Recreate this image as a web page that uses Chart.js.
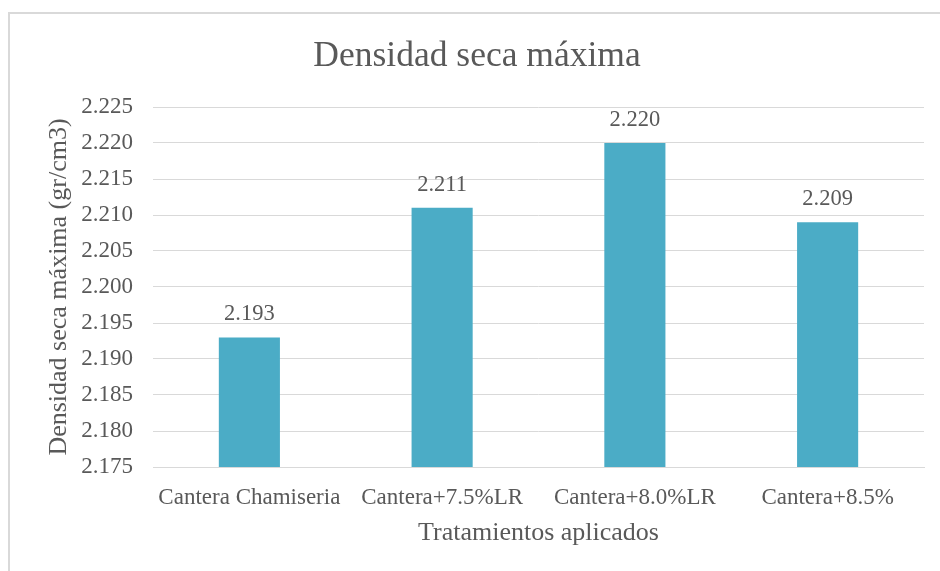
<!DOCTYPE html>
<html lang="es">
<head>
<meta charset="utf-8">
<title>Densidad seca máxima</title>
<script src="https://cdn.jsdelivr.net/npm/chart.js@4/dist/chart.umd.min.js"></script>
<style>
  html, body { margin: 0; padding: 0; background: #ffffff; }
  #wrap { width: 940px; height: 571px; }
</style>
</head>
<body>
<div id="wrap"><canvas id="chart" width="940" height="571"></canvas></div>
<script>
// Tratamientos y densidad seca máxima (gr/cm3)
const categorias = ['Cantera Chamiseria', 'Cantera+7.5%LR', 'Cantera+8.0%LR', 'Cantera+8.5%'];
const densidad = [2.193, 2.211, 2.220, 2.209];

// Escala del eje vertical
const yMin = 2.175;
const yMax = 2.225;
const yStep = 0.005;

const FONT = '"Liberation Serif", "Times New Roman", serif';
const TEXT = '#595959';
const GRID = '#d9d9d9';
const BAR = '#4bacc6';

// Marco gris claro del gráfico (borde superior e izquierdo)
const marco = {
  id: 'marco',
  beforeDraw(chart) {
    const ctx = chart.ctx;
    ctx.save();
    ctx.fillStyle = '#ffffff';
    ctx.fillRect(0, 0, chart.width, chart.height);
    ctx.fillStyle = GRID;
    ctx.fillRect(8, 12, chart.width - 8, 2);
    ctx.fillRect(8, 12, 2, chart.height - 12);
    ctx.restore();
  }
};

// Etiqueta con el valor sobre cada barra
const etiquetas = {
  id: 'etiquetas',
  afterDatasetsDraw(chart) {
    const ctx = chart.ctx;
    const meta = chart.getDatasetMeta(0);
    const values = chart.data.datasets[0].data;
    ctx.save();
    ctx.font = '22.5px ' + FONT;
    ctx.fillStyle = TEXT;
    ctx.textAlign = 'center';
    ctx.textBaseline = 'middle';
    meta.data.forEach((bar, i) => {
      ctx.fillText(values[i].toFixed(3), bar.x, bar.y - 23);
    });
    ctx.restore();
  }
};

new Chart(document.getElementById('chart'), {
  type: 'bar',
  data: {
    labels: categorias,
    datasets: [{
      data: densidad,
      backgroundColor: BAR,
      borderWidth: 0,
      categoryPercentage: 1,
      barPercentage: 0.317
    }]
  },
  options: {
    responsive: false,
    animation: false,
    layout: { padding: { left: 30, right: 16, top: 0, bottom: 0 } },
    plugins: {
      legend: { display: false },
      tooltip: { enabled: false },
      title: {
        display: true,
        text: 'Densidad seca máxima',
        color: TEXT,
        font: { family: FONT, size: 35.5, weight: 'normal', lineHeight: 1.2 },
        padding: { top: 35.7, bottom: 28.7 }
      }
    },
    scales: {
      x: {
        grid: { display: false, drawTicks: false },
        border: { display: true, color: GRID, width: 1 },
        ticks: {
          color: TEXT,
          font: { family: FONT, size: 23 },
          padding: 17,
          maxRotation: 0,
          autoSkip: false
        },
        title: {
          display: true,
          text: 'Tratamientos aplicados',
          color: TEXT,
          font: { family: FONT, size: 26, lineHeight: 1.2 },
          padding: { top: 0, bottom: 22.4 }
        },
        afterFit(scale) { scale.height = 104; }
      },
      y: {
        min: yMin,
        max: yMax,
        grid: { color: GRID, lineWidth: 1, drawTicks: false },
        border: { display: false },
        ticks: {
          stepSize: yStep,
          color: TEXT,
          font: { family: FONT, size: 23 },
          padding: 20,
          callback: (v) => Number(v).toFixed(3)
        },
        title: {
          display: true,
          text: 'Densidad seca máxima (gr/cm3)',
          color: TEXT,
          font: { family: FONT, size: 26, lineHeight: 1.2 },
          padding: { top: 13.4, bottom: 0 }
        },
        afterFit(scale) { scale.width = 123; }
      }
    }
  },
  plugins: [marco, etiquetas]
});
</script>
</body>
</html>
